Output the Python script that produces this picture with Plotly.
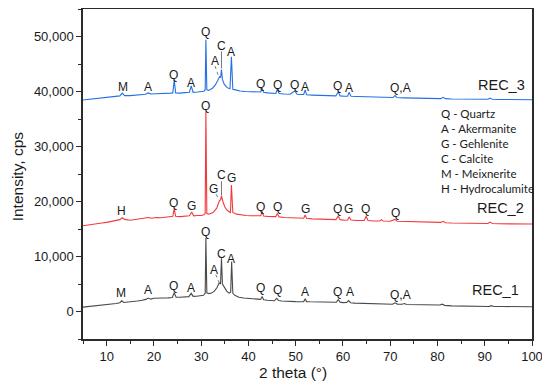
import plotly.graph_objects as go

# ---------------- data ----------------
rec1_x = [5, 6, 7, 8, 9, 10, 11, 12, 12.8, 13.2, 13.6, 14.5, 15.5, 16.5, 17.5, 18.3, 18.8, 19.3, 20, 21, 22, 23,
          23.9, 24.3, 24.7, 25.5, 26.5, 27.4, 27.9, 28.3, 29, 29.8, 30.5, 30.85, 31.0, 31.2, 31.6, 32.2, 32.8,
          33.4, 33.8, 34.1, 34.3, 34.5, 34.9, 35.4, 35.9, 36.25, 36.45, 36.7, 37.2, 38, 39, 40, 41, 42, 42.6,
          42.9, 43.2, 44, 44.8, 45.5, 46.0, 46.4, 47, 48, 49, 50, 51, 51.7, 52.0, 52.3, 53, 54, 55, 56, 57, 58,
          58.6, 59.0, 59.4, 60, 60.8, 61.2, 61.6, 62.5, 63.5, 65, 66, 67.5, 69, 70.5, 71.0, 71.5, 72.5, 73, 73.5,
          75, 77, 79, 80.5, 81, 81.5, 83, 85, 87, 89, 91, 91.3, 92, 94, 96, 98, 100]
rec1_y = [800, 880, 960, 1050, 1150, 1250, 1350, 1450, 1600, 1950, 1650, 1700, 1820, 1900, 2050, 2200, 2450, 2250,
          2400, 2380, 2450, 2480, 2550, 3400, 2600, 2580, 2650, 2700, 3300, 2750, 2780, 2850, 2950, 3300, 13350,
          3400, 3250, 3350, 3700, 4400, 5200, 5000, 9700, 5000, 4300, 3700, 3350, 3500, 9100, 3300, 2900, 2600,
          2450, 2350, 2250, 2150, 2200, 2750, 2150, 2050, 2000, 1950, 2400, 2000, 1920, 1850, 1850, 1800, 1780,
          1800, 2300, 1800, 1760, 1740, 1700, 1690, 1660, 1640, 1680, 2150, 1700, 1620, 1640, 1980, 1600, 1520,
          1500, 1460, 1440, 1380, 1360, 1330, 1580, 1350, 1320, 1450, 1280, 1250, 1220, 1200, 1170, 1330, 1120,
          1020, 980, 960, 940, 920, 1060, 920, 900, 880, 890, 870]

rec2_x = [5, 6, 7, 8, 9, 10, 11, 12, 12.8, 13.3, 13.8, 15, 16, 17, 18, 18.8, 19.5, 20.5, 21.5, 22.5, 23.5, 24.0,
          24.3, 24.6, 25.5, 26.5, 27.5, 28.0, 28.4, 29.2, 30, 30.6, 30.85, 31.0, 31.2, 31.6, 32.5, 33.3, 33.8,
          34.1, 34.3, 34.6, 35, 35.6, 36.2, 36.4, 36.7, 37.5, 38.5, 39.5, 40.5, 41.5, 42.6, 42.9, 43.2, 44, 45,
          45.8, 46.1, 46.5, 47.5, 48.5, 49.5, 50.5, 51.7, 52.0, 52.3, 53.5, 55, 56.5, 58.5, 59.0, 59.4, 60.3,
          61.0, 61.3, 61.7, 63, 64.5, 64.9, 65.3, 66.5, 67.8, 68.1, 68.5, 70, 71.0, 71.5, 73, 75, 77, 79, 80.7,
          81.2, 81.7, 83, 85, 87, 89, 90.7, 91.1, 91.6, 93, 95, 97, 100]
rec2_y = [15600, 15750, 15850, 15950, 16100, 16200, 16350, 16500, 16700, 17050, 16750, 16600, 16700, 16800, 16900,
          17100, 16950, 17100, 17050, 17150, 17200, 17300, 18700, 17300, 17250, 17350, 17400, 18100, 17400,
          17450, 17450, 17600, 17800, 36400, 17800, 17700, 18000, 18800, 20000, 20300, 21000, 20000, 19000,
          18300, 18000, 23000, 18000, 17700, 17550, 17450, 17400, 17350, 17400, 18200, 17350, 17300, 17200, 17250,
          17800, 17200, 17100, 17050, 17000, 16950, 16950, 17550, 16950, 16850, 16800, 16750, 16700, 17350, 16700,
          16600, 16650, 17200, 16650, 16550, 16550, 17300, 16550, 16450, 16450, 16700, 16450, 16400, 16750, 16400,
          16350, 16300, 16250, 16200, 16200, 16400, 16150, 16100, 16050, 16000, 16000, 16000, 16250, 16000, 15950,
          15950, 15900, 15900]

rec3_x = [5, 6, 7, 8, 9, 10, 11, 12, 12.8, 13.3, 13.8, 15, 16, 17, 18.2, 18.8, 19.4, 20.5, 21.5, 22.5, 23.5, 24.0,
          24.3, 24.6, 25.5, 26.5, 27.5, 27.9, 28.3, 29.2, 30, 30.6, 30.85, 31.0, 31.2, 31.6, 32.4, 33.0, 33.5,
          33.9, 34.1, 34.3, 34.5, 34.9, 35.5, 36.1, 36.4, 36.7, 37.3, 38.2, 39.3, 40.5, 41.5, 42.6, 42.9, 43.2,
          44, 45, 45.8, 46.1, 46.5, 47.5, 48.8, 49.8, 50.3, 51.2, 51.7, 52.0, 52.3, 53.5, 55, 56.5, 58.5, 59.0,
          59.4, 60.3, 61.0, 61.3, 61.7, 63, 65, 67, 69, 70.6, 71.0, 71.4, 73, 75, 77, 79, 80.7, 81.2, 81.7, 83,
          85, 87, 89, 90.7, 91.1, 91.6, 93, 95, 97, 100]
rec3_y = [38450, 38550, 38650, 38700, 38800, 38850, 38950, 39050, 39200, 39700, 39250, 39250, 39350, 39400, 39500,
          39750, 39550, 39600, 39600, 39650, 39700, 39750, 42100, 39750, 39700, 39800, 39850, 41000, 39850, 39900,
          39950, 40050, 40300, 49400, 40300, 40200, 40600, 41200, 42000, 42700, 42500, 44000, 42200, 41300, 40700,
          40500, 46300, 40400, 40300, 40100, 40000, 39950, 39900, 39900, 40650, 39850, 39750, 39650, 39650, 40400,
          39650, 39550, 39500, 40100, 39500, 39450, 39450, 40300, 39400, 39350, 39300, 39250, 39200, 39950, 39200,
          39150, 39150, 39850, 39150, 39100, 39050, 38950, 38900, 38900, 39250, 38900, 38850, 38800, 38750, 38700,
          38700, 38950, 38700, 38650, 38600, 38600, 38580, 38580, 38800, 38580, 38550, 38520, 38520, 38500]

# peak labels
rec1_lbl_x = [13.1, 18.7, 24.1, 27.9, 31.0, 32.7, 34.3, 36.4, 42.6, 46.2, 52.0, 58.9, 61.5, 72.1]
rec1_lbl_y = [3300, 3900, 4700, 4200, 14500, 7600, 10500, 9500, 4250, 3950, 3500, 3500, 3500, 3000]
rec1_lbl_t = ["M", "A", "Q", "A", "Q", "A", "C", "A", "Q", "Q", "A", "Q", "A", "Q,A"]

rec2_lbl_x = [13.1, 24.2, 28.0, 31.0, 32.7, 34.3, 36.4, 42.6, 46.2, 52.0, 58.8, 61.2, 64.8, 71.2]
rec2_lbl_y = [18200, 19700, 19200, 37400, 22200, 24900, 24300, 19000, 19000, 18600, 18700, 18700, 18600, 18000]
rec2_lbl_t = ["H", "Q", "G", "Q", "G", "C", "G", "Q", "Q", "G", "Q", "G", "Q", "Q"]

rec3_lbl_x = [13.4, 18.7, 24.2, 27.9, 31.0, 32.9, 34.3, 36.4, 42.6, 46.2, 49.8, 52.0, 58.9, 61.2, 72.2]
rec3_lbl_y = [40800, 40800, 43000, 41600, 50800, 45600, 48300, 47200, 41400, 41200, 41200, 40800, 41000, 40600, 40600]
rec3_lbl_t = ["M", "A", "Q", "A", "Q", "A", "C", "A", "Q", "Q", "Q", "A", "Q", "A", "Q,A"]

series_names = ["REC_1", "REC_2", "REC_3"]
series_label_x = [97.6, 98.7, 99.0]
series_label_y = [3950, 18800, 41200]

phase_key = ["Q - Quartz", "A - Akermanite", "G - Gehlenite", "C - Calcite", "M - Meixnerite", "H - Hydrocalumite"]
phase_key_x = 80.3
phase_key_y = [36070, 33340, 30610, 27880, 25150, 22420]

# leader lines: (x0, y0, x1, y1, dash)
leaders = [
    (33.1, 6700, 33.8, 5300, "dot"),
    (33.2, 21300, 33.9, 20100, "dot"),
    (34.3, 23700, 34.3, 21100, "solid"),
    (32.95, 44600, 33.6, 43000, "dot"),
    (34.3, 47300, 34.3, 44200, "solid"),
]

colors = ["#4a4a4a", "#f23a3c", "#2470e6"]

# ---------------- figure ----------------
fig = go.Figure()
for name, xs, ys, c in zip(series_names, [rec1_x, rec2_x, rec3_x], [rec1_y, rec2_y, rec3_y], colors):
    fig.add_trace(go.Scatter(x=xs, y=ys, mode="lines", name=name,
                             line=dict(color=c, width=1.1), showlegend=False))

font_main = "Liberation Sans, Arial, sans-serif"
anns = []
for lx, ly, lt in [(rec1_lbl_x, rec1_lbl_y, rec1_lbl_t), (rec2_lbl_x, rec2_lbl_y, rec2_lbl_t),
                   (rec3_lbl_x, rec3_lbl_y, rec3_lbl_t)]:
    for x, y, t in zip(lx, ly, lt):
        anns.append(dict(x=x, y=y, text=t, showarrow=False, xanchor="center", yanchor="middle",
                         font=dict(family=font_main, size=12, color="#1a1a1a")))
for name, x, y in zip(series_names, series_label_x, series_label_y):
    anns.append(dict(x=x, y=y, text=name, showarrow=False, xanchor="right", yanchor="middle",
                     font=dict(family=font_main, size=14.5, color="#1a1a1a")))
for t, y in zip(phase_key, phase_key_y):
    anns.append(dict(x=phase_key_x, y=y, text=t, showarrow=False, xanchor="left", yanchor="middle",
                     font=dict(family="Lato, Carlito, sans-serif", size=11.5, color="#1a1a1a")))
# axis titles
anns.append(dict(xref="paper", yref="paper", x=0.468, y=-0.1, text="2 theta (°)", showarrow=False,
                 xanchor="center", yanchor="middle", font=dict(family=font_main, size=15.5, color="#1a1a1a")))
anns.append(dict(xref="paper", yref="paper", x=-0.1455, y=0.492, text="Intensity, cps", showarrow=False,
                 textangle=-90, xanchor="center", yanchor="middle", borderpad=0,
                 font=dict(family=font_main, size=15.5, color="#1a1a1a")))

shapes = []
for x0, y0, x1, y1, d in leaders:
    shapes.append(dict(type="line", x0=x0, y0=y0, x1=x1, y1=y1, xref="x", yref="y",
                       line=dict(color="#777777", width=1, dash=d)))

axis_common = dict(showgrid=False, zeroline=False, showline=True, linecolor="#2b2b2b", linewidth=1.5,
                   mirror=True, ticks="outside", ticklen=5, tickwidth=1.3, tickcolor="#2b2b2b",
                   automargin=False,
                   tickfont=dict(family=font_main, size=13, color="#1a1a1a"))

# the page body adds an 8 px offset, so the figure is 8 px smaller and its margins are shifted
fig.update_layout(
    width=542, height=382,
    margin=dict(l=75, r=18, t=1, b=51, autoexpand=False),
    paper_bgcolor="white", plot_bgcolor="white",
    annotations=anns, shapes=shapes,
    xaxis=dict(range=[5, 100], tickvals=list(range(10, 101, 10)),
               minor=dict(ticks="outside", ticklen=3, tickwidth=1.2, tickcolor="#2b2b2b", dtick=5, tick0=0),
               **axis_common),
    yaxis=dict(range=[-5000, 55000], tickvals=list(range(0, 50001, 10000)), tickformat=",",
               minor=dict(ticks="outside", ticklen=3, tickwidth=1.2, tickcolor="#2b2b2b", dtick=5000, tick0=0),
               **axis_common),
)

fig.write_html("out.html")
